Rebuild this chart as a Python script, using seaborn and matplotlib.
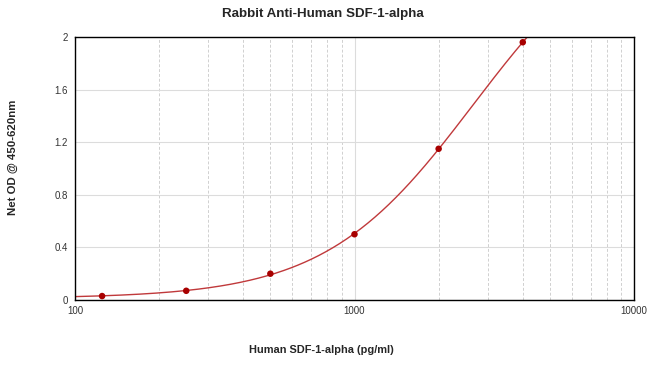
import numpy as np
import pandas as pd
import matplotlib
matplotlib.use("Agg")
import matplotlib.pyplot as plt
import seaborn as sns
from matplotlib.ticker import FixedLocator, NullFormatter, LogLocator

conc = [125, 250, 500, 1000, 2000, 4000]
od = [0.03, 0.07, 0.20, 0.50, 1.15, 1.96]
yticks = [0, 0.4, 0.8, 1.2, 1.6, 2]
ytick_labels = ["0", "0.4", "0.8", "1.2", "1.6", "2"]
xticks = [100, 1000, 10000]
xtick_labels = ["100", "1000", "10000"]

title = "Rabbit Anti-Human SDF-1-alpha"
xlabel = "Human SDF-1-alpha (pg/ml)"
ylabel = "Net OD @ 450-620nm"

# 4PL fit via simple Levenberg-Marquardt
x = np.array(conc, float)
y = np.array(od, float)

def f4(p, xx):
    a, b, c, d = p
    return d + (a - d) / (1.0 + (xx / c) ** b)

p = np.array([0.02, 1.5, 5000.0, 5.0])
lam = 1e-2
for _ in range(2000):
    r = y - f4(p, x)
    J = np.zeros((len(x), 4))
    for i in range(4):
        dp = np.zeros(4); dp[i] = 1e-6 * max(abs(p[i]), 1e-3)
        J[:, i] = (f4(p + dp, x) - f4(p - dp, x)) / (2 * dp[i])
    A = J.T @ J
    g = J.T @ r
    step = np.linalg.solve(A + lam * np.diag(np.diag(A)), g)
    pn = p + step
    if pn[2] > 0 and np.sum((y - f4(pn, x)) ** 2) < np.sum(r ** 2):
        p = pn; lam *= 0.5
    else:
        lam *= 4

xs = np.logspace(2, 4, 400)
ys = f4(p, xs)
curve = pd.DataFrame({"x": xs, "y": ys})
pts = pd.DataFrame({"x": conc, "y": od})

sns.set_style("white")
plt.rcParams['font.family'] = ['Liberation Sans', 'DejaVu Sans']

fig = plt.figure(figsize=(6.5, 3.79), dpi=100)
ax = fig.add_axes([75/650, 1-300/379, (634-75)/650, (300-37)/379])
ax.set_xscale("log")
ax.set_xlim(100, 10000)
ax.set_ylim(0, 2)

ax.xaxis.set_major_locator(FixedLocator(xticks))
ax.xaxis.set_minor_locator(LogLocator(base=10, subs=np.arange(2, 10)))
ax.xaxis.set_minor_formatter(NullFormatter())
ax.set_xticks(xticks)
ax.set_xticklabels(xtick_labels)
ax.set_yticks(yticks)
ax.set_yticklabels(ytick_labels)

ax.grid(True, which="major", axis="both", color="#dcdcdc", linewidth=0.8, linestyle="-")
ax.grid(True, which="minor", axis="x", color="#d0d0d0", linewidth=0.7, linestyle=(0, (3, 2)))
ax.set_axisbelow(True)

sns.lineplot(data=curve, x="x", y="y", ax=ax, color="#c0393b", linewidth=1.0, clip_on=True)
sns.scatterplot(data=pts, x="x", y="y", ax=ax, color="#a80000", s=22, edgecolor="none", zorder=5, clip_on=False)

for s in ax.spines.values():
    s.set_visible(True)
    s.set_color("black")
    s.set_linewidth(1.0)

ax.tick_params(axis="both", which="both", length=0, labelsize=7, colors="#333333")
ax.tick_params(axis="x", pad=4)
ax.tick_params(axis="y", pad=5)

ax.set_xlabel("")
ax.set_ylabel("")
fig.text(321.5/650, 1-350/379, xlabel, fontsize=7.9, fontweight="bold", ha="center", va="center")
fig.text(12.5/650, 1-157/379, ylabel, fontsize=8.2, fontweight="bold", ha="center", va="center", rotation=90)
fig.text(323/650, 1-14/379, title, fontsize=9.6, fontweight="bold", ha="center", va="center")

fig.savefig("out.png", dpi=100)
